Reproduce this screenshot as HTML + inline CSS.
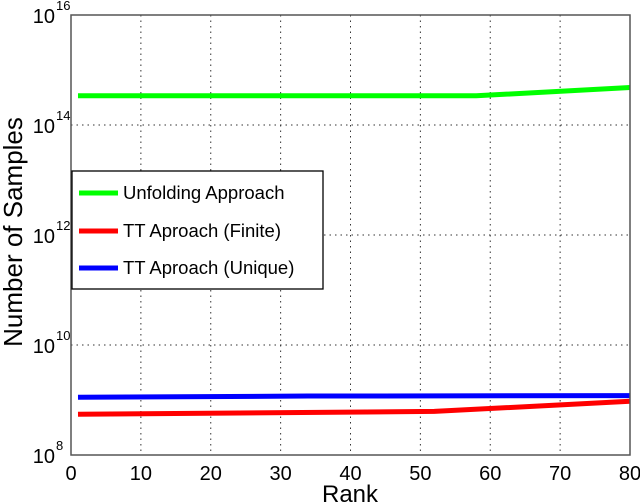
<!DOCTYPE html>
<html><head><meta charset="utf-8"><style>
body{margin:0;background:#fff}
svg{display:block;font-family:"Liberation Sans",sans-serif}
</style></head><body>
<svg id="chart" width="640" height="504"></svg>
<script>
const xTicks=[0,10,20,30,40,50,60,70,80];
const yTickExps=[8,10,12,14,16];
const greenRanks=[1,58,80];
const greenValues=[3.4e14,3.4e14,4.8e14];
const redRanks=[1,52,80];
const redValues=[5.5e8,6.2e8,9.5e8];
const blueRanks=[1,34,80];
const blueValues=[1.12e9,1.18e9,1.2e9];

const L=71,R=630,T=15,B=455;
const NS='http://www.w3.org/2000/svg';
const svg=document.getElementById('chart');
function xs(v){return L+(v-0)/80*(R-L);}
function ys(v){return B-(Math.log10(v)-8)/8*(B-T);}
function mk(tag,attrs,parent){const e=document.createElementNS(NS,tag);for(const k in attrs)e.setAttribute(k,attrs[k]);(parent||svg).appendChild(e);return e;}

xTicks.forEach(t=>{
  if(t>0&&t<80){const g=mk('line',{x1:xs(t),x2:xs(t),y1:T,y2:B,stroke:'#333','stroke-width':1,'stroke-dasharray':'1.5,4'});
  
  }
  const tl=mk('text',{x:xs(t),y:480,'font-size':20,'text-anchor':'middle',fill:'#000'});
  tl.textContent=t;
  
  
});
yTickExps.forEach(e=>{
  const y=ys(Math.pow(10,e));
  if(e>8&&e<16){const g=mk('line',{x1:L,x2:R,y1:y,y2:y,stroke:'#333','stroke-width':1,'stroke-dasharray':'1.5,4'});
  
  }
  const tl=mk('text',{x:55,y:y+8,'font-size':20,'text-anchor':'end',fill:'#000'});
  tl.textContent='10';
  
  
  const sp=mk('text',{x:56,y:y-5,'font-size':13,fill:'#000'});
  sp.textContent=e;
  
  
});

function series(ranks,vals,color,name){
  const p=mk('polyline',{points:ranks.map((r,i)=>xs(r)+','+ys(vals[i])).join(' '),fill:'none',stroke:color,'stroke-width':5});
  
  
}
series(greenRanks,greenValues,'#00ff00','unfolding-approach-line');
series(redRanks,redValues,'#ff0000','tt-finite-line');
series(blueRanks,blueValues,'#0000ff','tt-unique-line');

const ax=mk('rect',{x:L,y:T,width:R-L,height:B-T,fill:'none',stroke:'#555','stroke-width':1.5});


</script>
<svg style="position:absolute;left:0;top:0" width="640" height="504">
  <g>
    <rect x="72" y="171" width="251" height="118" fill="#fff" stroke="#000" stroke-width="1.3"/>
    <line x1="79" y1="193" x2="118" y2="193" stroke="#00ff00" stroke-width="5"/>
    <text x="123" y="199" font-size="18.5">Unfolding Approach</text>
    <line x1="79" y1="231" x2="118" y2="231" stroke="#ff0000" stroke-width="5"/>
    <text x="123" y="237" font-size="18.5">TT Aproach (Finite)</text>
    <line x1="79" y1="268" x2="118" y2="268" stroke="#0000ff" stroke-width="5"/>
    <text x="123" y="274" font-size="18.5">TT Aproach (Unique)</text>
  </g>
  <text x="350" y="502" font-size="24" text-anchor="middle">Rank</text>
  <text transform="translate(22,232) rotate(-90)" font-size="26" text-anchor="middle">Number of Samples</text>
</svg>
</body></html>
